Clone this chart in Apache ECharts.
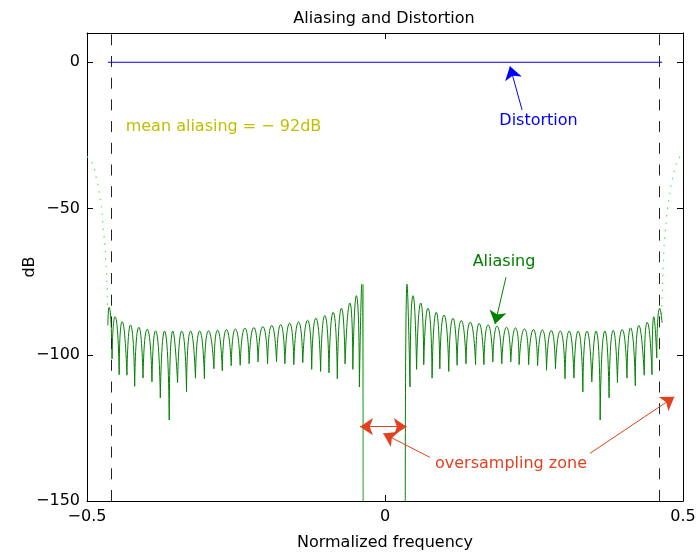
<!DOCTYPE html>
<html>
<head>
<meta charset="utf-8">
<title>Aliasing and Distortion</title>
<script src="https://cdn.jsdelivr.net/npm/echarts@6/dist/echarts.min.js"></script>
<style>
    * { margin: 0; padding: 0; }
    body { background: #fff; }
</style>
</head>
<body>
<!-- chart container -->
<div id="chart" style="width: 700px;height: 556px;"></div>
<script>
    // aliasing lobes, left of the oversampling zone (normalized frequency / dB)
    var leftPeakF  = [-0.463, -0.453, -0.441, -0.427, -0.413, -0.399, -0.385, -0.370, -0.356, -0.341, -0.326, -0.311, -0.296, -0.281, -0.266, -0.251, -0.235, -0.220, -0.205, -0.190, -0.175, -0.160, -0.145, -0.130, -0.116, -0.101, -0.087, -0.073, -0.059, -0.048, -0.039];
    var leftPeakDb = [-83.8, -87.0, -88.7, -89.8, -90.6, -91.3, -91.8, -91.9, -91.9, -91.9, -91.9, -91.9, -91.8, -91.6, -91.4, -91.2, -90.9, -90.7, -90.4, -90.0, -89.7, -89.2, -88.8, -88.2, -87.5, -86.6, -85.5, -84.1, -82.3, -79.8, -75.9];
    var leftNullF  = [-0.458, -0.446, -0.433, -0.420, -0.406, -0.391, -0.377, -0.362, -0.348, -0.333, -0.318, -0.303, -0.287, -0.273, -0.258, -0.243, -0.228, -0.213, -0.197, -0.182, -0.168, -0.153, -0.138, -0.123, -0.108, -0.094, -0.080, -0.067, -0.054, -0.043];
    var leftNullDb = [-101.4, -106.8, -107.0, -110.8, -108.0, -109.3, -114.7, -122.3, -109.5, -112.7, -108.0, -108.2, -104.8, -105.5, -103.8, -103.6, -103.1, -102.5, -103.1, -102.5, -103.1, -103.4, -102.7, -105.0, -105.7, -106.2, -108.2, -103.1, -105.0, -111.0];

    // aliasing lobes, right of the oversampling zone
    var rightPeakF  = [0.037, 0.047, 0.060, 0.072, 0.086, 0.099, 0.114, 0.128, 0.143, 0.158, 0.173, 0.188, 0.204, 0.219, 0.234, 0.249, 0.264, 0.279, 0.294, 0.309, 0.324, 0.339, 0.354, 0.369, 0.383, 0.398, 0.412, 0.426, 0.440, 0.451, 0.461];
    var rightPeakDb = [-75.9, -79.8, -82.3, -84.1, -85.5, -86.4, -87.5, -88.3, -88.9, -89.3, -89.8, -90.2, -90.6, -90.8, -91.2, -91.4, -91.5, -91.7, -91.9, -91.9, -91.9, -91.9, -91.9, -91.9, -91.7, -91.4, -90.8, -90.0, -88.9, -87.0, -84.1];
    var rightNullF  = [0.042, 0.053, 0.065, 0.079, 0.092, 0.107, 0.121, 0.136, 0.152, 0.166, 0.181, 0.196, 0.211, 0.225, 0.241, 0.256, 0.271, 0.286, 0.302, 0.317, 0.332, 0.347, 0.361, 0.376, 0.390, 0.406, 0.420, 0.435, 0.448, 0.456];
    var rightNullDb = [-111.0, -105.0, -103.4, -108.0, -104.8, -105.7, -103.6, -103.1, -103.4, -103.4, -102.5, -103.1, -102.5, -103.4, -103.4, -103.8, -105.3, -104.8, -108.2, -108.0, -112.7, -109.3, -122.3, -114.7, -109.5, -108.0, -110.6, -107.0, -106.8, -101.1];

    // band ends of the aliasing curve
    var leftStart = [-0.465, -90];
    var leftEnd = [-0.0364, -150];
    var rightStart = [0.034, -150];
    var rightEnd = [0.465, -89];

    // light green dotted curve outside the band
    var leftEdgeF  = [-0.5, -0.491, -0.487, -0.484, -0.481, -0.479, -0.477, -0.475, -0.474, -0.473, -0.4715, -0.470, -0.469, -0.4686, -0.4676, -0.467, -0.4664, -0.466, -0.4655];
    var leftEdgeDb = [-32.2, -34.5, -37.1, -39.9, -42.6, -45.5, -48.1, -51.0, -53.7, -56.6, -59.4, -62.2, -65.1, -67.8, -70.5, -73.2, -76.1, -78.9, -84.0];
    var rightEdgeF  = [0.4642, 0.4648, 0.466, 0.467, 0.468, 0.4703, 0.4727, 0.4743, 0.476, 0.4782, 0.4804, 0.4837, 0.487, 0.492, 0.5];
    var rightEdgeDb = [-86.0, -80.5, -74.8, -69.3, -63.7, -58.2, -52.6, -49.8, -47.0, -44.3, -41.5, -38.8, -36.1, -33.3, -31.0];

    // distortion line and band limits
    var distF = [-0.465, 0.465];
    var distDb = [0, 0];
    var bandLimits = [-0.4648, 0.4602];

    var FONT = 'DejaVu Sans';
    var RED = '#e2401f';

    // annotations: text, centre (f, dB), colour
    var notes = [
        ['mean aliasing = \u2212 92dB', -0.271, -22.1, '#bfbf00'],
        ['Distortion', 0.2576, -20.1, '#0000ff'],
        ['Aliasing', 0.1997, -68.4, '#008000'],
        ['oversampling zone', 0.2114, -137.4, RED]
    ];

    function pairs(xs, ys) {
        return xs.map(function (x, i) { return [x, ys[i]]; });
    }

    // every lobe is its own short smooth piece: round top, sharp null
    function lobes(start, peakF, peakDb, nullF, nullDb, end) {
        var out = [];
        var prev = start;
        for (var i = 0; i < peakF.length; i++) {
            var next = i < nullF.length ? [nullF[i], nullDb[i]] : end;
            out.push(prev, [peakF[i], peakDb[i]], next, [next[0], '-']);
            prev = next;
        }
        return out;
    }

    function minus(v) {
        return v < 0 ? '\u2212' + Math.abs(v) : String(v);
    }

    var aliasData = lobes(leftStart, leftPeakF, leftPeakDb, leftNullF, leftNullDb, leftEnd)
        .concat(lobes(rightStart, rightPeakF, rightPeakDb, rightNullF, rightNullDb, rightEnd));

    var chart = echarts.init(document.getElementById('chart'));
    var axisCommon = {
        type: 'value',
        axisLine: { show: true, onZero: false, lineStyle: { color: '#000', width: 1 } },
        axisTick: { inside: true, length: 6, lineStyle: { color: '#000' } },
        splitLine: { show: false }
    };

    chart.setOption({
        animation: false,
        title: {
            text: 'Aliasing and Distortion',
            left: 379, top: 6, textAlign: 'center',
            textStyle: { fontFamily: FONT, fontSize: 16, fontWeight: 'normal', color: '#000' }
        },
        grid: { left: 87, right: 17, top: 33, bottom: 54 },
        xAxis: [
            echarts.util.merge({
                min: -0.5, max: 0.5, interval: 0.5, position: 'bottom',
                name: 'Normalized frequency', nameLocation: 'middle', nameGap: 34, nameMoveOverlap: false,
                nameTextStyle: { fontFamily: FONT, fontSize: 16, color: '#000' },
                axisLabel: { fontFamily: FONT, fontSize: 16, color: '#000', margin: 8, formatter: minus }
            }, axisCommon, true),
            echarts.util.merge({
                min: -0.5, max: 0.5, interval: 0.5, position: 'top',
                axisLabel: { show: false }
            }, axisCommon, true)
        ],
        yAxis: [
            echarts.util.merge({
                min: -150, max: 10, interval: 50, position: 'left',
                name: 'dB', nameLocation: 'middle', nameGap: 49, nameMoveOverlap: false,
                nameTextStyle: { fontFamily: FONT, fontSize: 16, color: '#000' },
                axisLabel: {
                    fontFamily: FONT, fontSize: 16, color: '#000', margin: 7,
                    formatter: function (v) { return v % 50 === 0 ? minus(v) : ''; }
                }
            }, axisCommon, true),
            echarts.util.merge({
                min: -150, max: 10, interval: 50, position: 'right',
                axisLabel: { show: false }
            }, axisCommon, true)
        ],
        series: [
            {
                name: 'outside', type: 'line', showSymbol: false, smooth: true, silent: true,
                data: pairs(leftEdgeF, leftEdgeDb).concat([[0.5, '-']], pairs(rightEdgeF, rightEdgeDb)),
                lineStyle: { color: '#5ee65e', width: 1.2, type: [1.5, 6] }
            },
            {
                name: 'Aliasing', type: 'line', showSymbol: false, smooth: 0.8, silent: true,
                data: aliasData,
                lineStyle: { color: '#008000', width: 1 },
                markLine: {
                    silent: true, symbol: ['none', 'arrow'], symbolSize: 13, label: { show: false },
                    lineStyle: { color: '#008000', width: 1, type: 'solid' },
                    data: [[{ coord: [0.203, -73.5] }, { coord: [0.1846, -89.5] }]]
                }
            },
            {
                name: 'zone edge', type: 'line', showSymbol: false, silent: true,
                data: [[leftEnd[0], leftPeakDb[leftPeakDb.length - 1]], leftEnd],
                lineStyle: { color: '#80c880', width: 1.6 }
            },
            {
                name: 'Distortion', type: 'line', showSymbol: false, silent: true,
                data: pairs(distF, distDb),
                lineStyle: { color: '#0000ff', width: 1 },
                markLine: {
                    silent: true, symbol: ['none', 'arrow'], symbolSize: 13, label: { show: false },
                    lineStyle: { color: '#0000ff', width: 1, type: 'solid' },
                    data: [[{ coord: [0.23, -16.3] }, { coord: [0.2097, -1.4] }]]
                }
            },
            {
                name: 'band', type: 'line', data: [], silent: true,
                markLine: {
                    silent: true, symbol: 'none', label: { show: false },
                    lineStyle: { color: '#222', width: 1, type: [11, 10.7] },
                    data: bandLimits.map(function (f) { return { xAxis: f }; })
                }
            },
            {
                name: 'zone arrows', type: 'line', data: [], silent: true,
                markLine: {
                    silent: true, symbol: ['none', 'arrow'], symbolSize: 13, label: { show: false },
                    lineStyle: { color: RED, width: 1, type: 'solid' },
                    data: [
                        [{ coord: [0.0755, -135.1] }, { coord: [-0.003, -126.9] }],
                        [{ coord: [0.344, -133.7] }, { coord: [0.4855, -114.4] }],
                        [{ coord: [-0.042, -124.6], symbol: 'arrow' }, { coord: [0.0364, -124.6], symbol: 'arrow' }]
                    ]
                }
            }
        ]
    });

    // place annotation texts at their data positions
    chart.setOption({
        graphic: notes.map(function (n) {
            var p = chart.convertToPixel({ gridIndex: 0 }, [n[1], n[2]]);
            return {
                type: 'text', x: p[0], y: p[1], silent: true,
                style: {
                    text: n[0], fill: n[3], font: '16px "DejaVu Sans"',
                    align: 'center', verticalAlign: 'middle'
                }
            };
        })
    });
</script>
</body>
</html>
